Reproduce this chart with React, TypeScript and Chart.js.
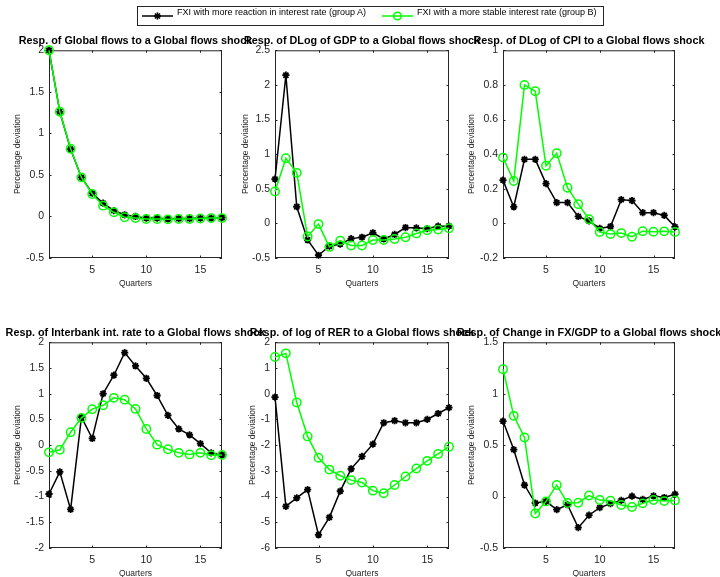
import React, { useEffect, useRef } from 'react';
import { Chart, registerables } from 'chart.js';

Chart.register(...registerables);

// ---------------- data ----------------
const quarters = [1, 2, 3, 4, 5, 6, 7, 8, 9, 10, 11, 12, 13, 14, 15, 16, 17];
const xTickValues = [5, 10, 15];

const legendA = 'FXI with more reaction in interest rate (group A)';
const legendB = 'FXI with a more stable interest rate (group B)';

const titles = [
  'Resp. of Global flows to a Global flows shock',
  'Resp. of DLog of GDP to a Global flows shock',
  'Resp. of DLog of CPI to a Global flows shock',
  'Resp. of Interbank int. rate to a Global flows shock',
  'Resp. of log of RER to a Global flows shock',
  'Resp. of Change in FX/GDP to a Global flows shock',
];

const globalFlowsA = [2.0, 1.26, 0.81, 0.47, 0.28, 0.16, 0.07, 0.02, 0.0, -0.02, -0.02, -0.03, -0.025, -0.025, -0.02, -0.02, -0.015];
const globalFlowsB = [2.0, 1.26, 0.815, 0.47, 0.27, 0.13, 0.05, -0.01, -0.02, -0.03, -0.03, -0.035, -0.03, -0.03, -0.025, -0.02, -0.02];

const gdpA = [0.64, 2.14, 0.24, -0.24, -0.46, -0.33, -0.3, -0.22, -0.2, -0.135, -0.225, -0.16, -0.06, -0.065, -0.075, -0.04, -0.04];
const gdpB = [0.46, 0.94, 0.73, -0.19, -0.01, -0.34, -0.25, -0.32, -0.32, -0.24, -0.24, -0.225, -0.2, -0.145, -0.1, -0.09, -0.07];

const cpiA = [0.25, 0.095, 0.37, 0.37, 0.23, 0.12, 0.12, 0.04, 0.014, -0.029, -0.018, 0.137, 0.132, 0.062, 0.062, 0.046, -0.02];
const cpiB = [0.38, 0.245, 0.8, 0.763, 0.333, 0.405, 0.206, 0.111, 0.024, -0.05, -0.062, -0.056, -0.077, -0.045, -0.048, -0.046, -0.05];

const rateA = [-0.95, -0.52, -1.25, 0.545, 0.13, 1.0, 1.36, 1.8, 1.54, 1.3, 0.965, 0.58, 0.315, 0.2, 0.03, -0.15, -0.19];
const rateB = [-0.14, -0.09, 0.25, 0.53, 0.7, 0.775, 0.92, 0.885, 0.705, 0.315, 0.01, -0.08, -0.15, -0.18, -0.15, -0.195, -0.19];

const rerA = [-0.13, -4.38, -4.05, -3.73, -5.49, -4.81, -3.79, -2.92, -2.44, -1.96, -1.13, -1.05, -1.13, -1.13, -1.0, -0.77, -0.54];
const rerB = [1.43, 1.57, -0.34, -1.66, -2.49, -2.95, -3.19, -3.36, -3.45, -3.77, -3.87, -3.55, -3.22, -2.91, -2.61, -2.34, -2.06];

const fxA = [0.734, 0.457, 0.112, -0.063, -0.047, -0.127, -0.079, -0.302, -0.181, -0.108, -0.069, -0.037, 0.004, -0.028, 0.007, -0.009, 0.023];
const fxB = [1.238, 0.785, 0.575, -0.165, -0.047, 0.112, -0.063, -0.06, 0.01, -0.034, -0.041, -0.082, -0.101, -0.066, -0.034, -0.044, -0.037];

const yTicks1 = [-0.5, 0, 0.5, 1, 1.5, 2];
const yTicks2 = [-0.5, 0, 0.5, 1, 1.5, 2, 2.5];
const yTicks3 = [-0.2, 0, 0.2, 0.4, 0.6, 0.8, 1];
const yTicks4 = [-2, -1.5, -1, -0.5, 0, 0.5, 1, 1.5, 2];
const yTicks5 = [-6, -5, -4, -3, -2, -1, 0, 1, 2];
const yTicks6 = [-0.5, 0, 0.5, 1, 1.5];

// ---------------- styling / layout ----------------
const FONT = "'Liberation Sans', Arial, Helvetica, sans-serif";
const AXIS_COLOR = '#262626';
const GREEN = '#00ff00';
const BLACK = '#000000';

const Y_AXIS_W = 49;
const X_AXIS_H = 36;
const PAD_TOP = 8;
const PAD_RIGHT = 10;

type PanelCfg = {
  L: number; T: number; R: number; B: number; yTitleOff: number;
  title: string; a: number[]; b: number[]; yTicks: number[];
};

const panels: PanelCfg[] = [
  { L: 49, T: 47, R: 222, B: 258, yTitleOff: 31, title: titles[0], a: globalFlowsA, b: globalFlowsB, yTicks: yTicks1 },
  { L: 275, T: 47, R: 449, B: 258, yTitleOff: 29, title: titles[1], a: gdpA, b: gdpB, yTicks: yTicks2 },
  { L: 503, T: 47, R: 675, B: 258, yTitleOff: 31.5, title: titles[2], a: cpiA, b: cpiB, yTicks: yTicks3 },
  { L: 49, T: 339, R: 222, B: 548, yTitleOff: 31, title: titles[3], a: rateA, b: rateB, yTicks: yTicks4 },
  { L: 275, T: 339, R: 449, B: 548, yTitleOff: 22, title: titles[4], a: rerA, b: rerB, yTicks: yTicks5 },
  { L: 503, T: 339, R: 675, B: 548, yTitleOff: 31.5, title: titles[5], a: fxA, b: fxB, yTicks: yTicks6 },
];

const fmt = (v: number) => String(Number(v.toFixed(3)));

const boxPlugin = {
  id: 'matlabBox',
  beforeDatasetsDraw(chart: any) {
    const { ctx, chartArea } = chart;
    const { left, top, right, bottom } = chartArea;
    const xs = chart.scales.x;
    const ys = chart.scales.y;
    const tl = 2.5;
    ctx.save();
    ctx.strokeStyle = AXIS_COLOR;
    ctx.lineWidth = 1;
    ctx.strokeRect(left + 0.5, top + 0.5, right - left - 1, bottom - top - 1);
    ctx.beginPath();
    for (const t of xs.ticks) {
      const px = Math.round(xs.getPixelForValue(t.value)) + 0.5;
      ctx.moveTo(px, bottom); ctx.lineTo(px, bottom - tl);
      ctx.moveTo(px, top); ctx.lineTo(px, top + tl);
    }
    for (const t of ys.ticks) {
      const py = Math.round(ys.getPixelForValue(t.value)) + 0.5;
      ctx.moveTo(left, py); ctx.lineTo(left + tl, py);
      ctx.moveTo(right, py); ctx.lineTo(right - tl, py);
    }
    ctx.stroke();
    ctx.restore();
  },
};

function Panel({ cfg }: { cfg: PanelCfg }) {
  const ref = useRef<HTMLCanvasElement>(null);
  const w = cfg.R - cfg.L + Y_AXIS_W + PAD_RIGHT;
  const h = cfg.B - cfg.T + PAD_TOP + X_AXIS_H;
  useEffect(() => {
    if (!ref.current) return;
    const yMin = cfg.yTicks[0];
    const yMax = cfg.yTicks[cfg.yTicks.length - 1];
    const lineH = 8.5 * 1.2;
    const chart = new Chart(ref.current, {
      type: 'line',
      data: {
        datasets: [
          {
            label: legendB,
            data: quarters.map((q, i) => ({ x: q, y: cfg.b[i] })),
            borderColor: GREEN,
            borderWidth: 1.5,
            pointStyle: 'circle',
            pointRadius: 4.2,
            pointBorderWidth: 1.5,
            pointBorderColor: GREEN,
            pointBackgroundColor: 'rgba(0,0,0,0)',
            tension: 0,
            fill: false,
            clip: false as any,
          },
          {
            label: legendA,
            data: quarters.map((q, i) => ({ x: q, y: cfg.a[i] })),
            borderColor: BLACK,
            borderWidth: 1.5,
            pointStyle: 'star',
            pointRadius: 3.6,
            pointBorderWidth: 1.8,
            pointBorderColor: BLACK,
            pointBackgroundColor: BLACK,
            tension: 0,
            fill: false,
            clip: false as any,
          },
        ],
      },
      options: {
        animation: false,
        responsive: false,
        maintainAspectRatio: false,
        devicePixelRatio: 1,
        events: [],
        layout: { padding: { top: PAD_TOP, right: PAD_RIGHT, left: 0, bottom: 0 } },
        plugins: { legend: { display: false }, tooltip: { enabled: false }, title: { display: false } },
        scales: {
          x: {
            type: 'linear',
            min: 1,
            max: 17,
            grid: { display: false, drawTicks: false },
            border: { display: false },
            afterBuildTicks: (s: any) => { s.ticks = xTickValues.map((v) => ({ value: v })); },
            afterFit: (s: any) => { s.height = X_AXIS_H; },
            ticks: {
              padding: 6,
              color: AXIS_COLOR,
              font: { family: FONT, size: 10.5 },
              maxRotation: 0,
              autoSkip: false,
              callback: (v: any) => fmt(Number(v)),
            },
            title: {
              display: true,
              text: 'Quarters',
              color: AXIS_COLOR,
              font: { family: FONT, size: 8.5 },
              padding: { top: 0, bottom: 5.3 },
            },
          },
          y: {
            type: 'linear',
            min: yMin,
            max: yMax,
            grid: { display: false, drawTicks: false },
            border: { display: false },
            afterBuildTicks: (s: any) => { s.ticks = cfg.yTicks.map((v) => ({ value: v })); },
            afterFit: (s: any) => { s.width = Y_AXIS_W; },
            ticks: {
              padding: 5,
              color: AXIS_COLOR,
              font: { family: FONT, size: 10.5 },
              autoSkip: false,
              callback: (v: any) => fmt(Number(v)),
            },
            title: {
              display: true,
              text: 'Percentage deviation',
              color: AXIS_COLOR,
              font: { family: FONT, size: 8.5 },
              padding: { top: Y_AXIS_W - cfg.yTitleOff - lineH / 2, bottom: 0 },
            },
          },
        },
      } as any,
      plugins: [boxPlugin],
    });
    return () => chart.destroy();
  }, [cfg]);
  return (
    <canvas
      ref={ref}
      width={w}
      height={h}
      style={{ position: 'absolute', left: cfg.L - Y_AXIS_W, top: cfg.T - PAD_TOP, width: w, height: h }}
    />
  );
}

function StarIcon() {
  const r = 3.6;
  const d = r * Math.SQRT1_2;
  return (
    <g stroke={BLACK} strokeWidth={1.6}>
      <line x1={-r} y1={0} x2={r} y2={0} />
      <line x1={0} y1={-r} x2={0} y2={r} />
      <line x1={-d} y1={-d} x2={d} y2={d} />
      <line x1={-d} y1={d} x2={d} y2={-d} />
    </g>
  );
}

function Legend() {
  const left = 137;
  const top = 6;
  const width = 467;
  const height = 20;
  const textStyle: React.CSSProperties = {
    position: 'absolute',
    top: 0,
    height: height - 2,
    lineHeight: `${height - 2}px`,
    font: `9px ${FONT}`,
    color: '#000',
    whiteSpace: 'nowrap',
  };
  return (
    <div
      style={{
        position: 'absolute', left, top, width, height, boxSizing: 'border-box',
        border: '1px solid #262626', background: '#fff',
      }}
    >
      <svg width={width - 2} height={height - 2} style={{ position: 'absolute', left: 0, top: 0 }}>
        <line x1={4} y1={9} x2={35} y2={9} stroke={BLACK} strokeWidth={1.5} />
        <g transform="translate(19.5,9)"><StarIcon /></g>
        <line x1={244} y1={9} x2={275} y2={9} stroke={GREEN} strokeWidth={1.5} />
        <circle cx={259.5} cy={9} r={3.8} fill="none" stroke={GREEN} strokeWidth={1.5} />
      </svg>
      <span style={{ ...textStyle, left: 39 }}>{legendA}</span>
      <span style={{ ...textStyle, left: 279 }}>{legendB}</span>
    </div>
  );
}

export default function App() {
  return (
    <div
      style={{
        position: 'fixed', left: 0, top: 0, width: 720, height: 577, overflow: 'hidden',
        background: '#fff',
      }}
    >
      {panels.map((p, i) => (
        <Panel key={i} cfg={p} />
      ))}
      {panels.map((p, i) => (
        <div
          key={'t' + i}
          style={{
            position: 'absolute',
            left: (p.L + p.R) / 2,
            top: p.T - 3 - 9.3,
            transform: 'translateX(-50%)',
            whiteSpace: 'nowrap',
            font: `bold 10.8px ${FONT}`,
            lineHeight: '10.8px',
            color: '#000',
          }}
        >
          {p.title}
        </div>
      ))}
      <Legend />
    </div>
  );
}
